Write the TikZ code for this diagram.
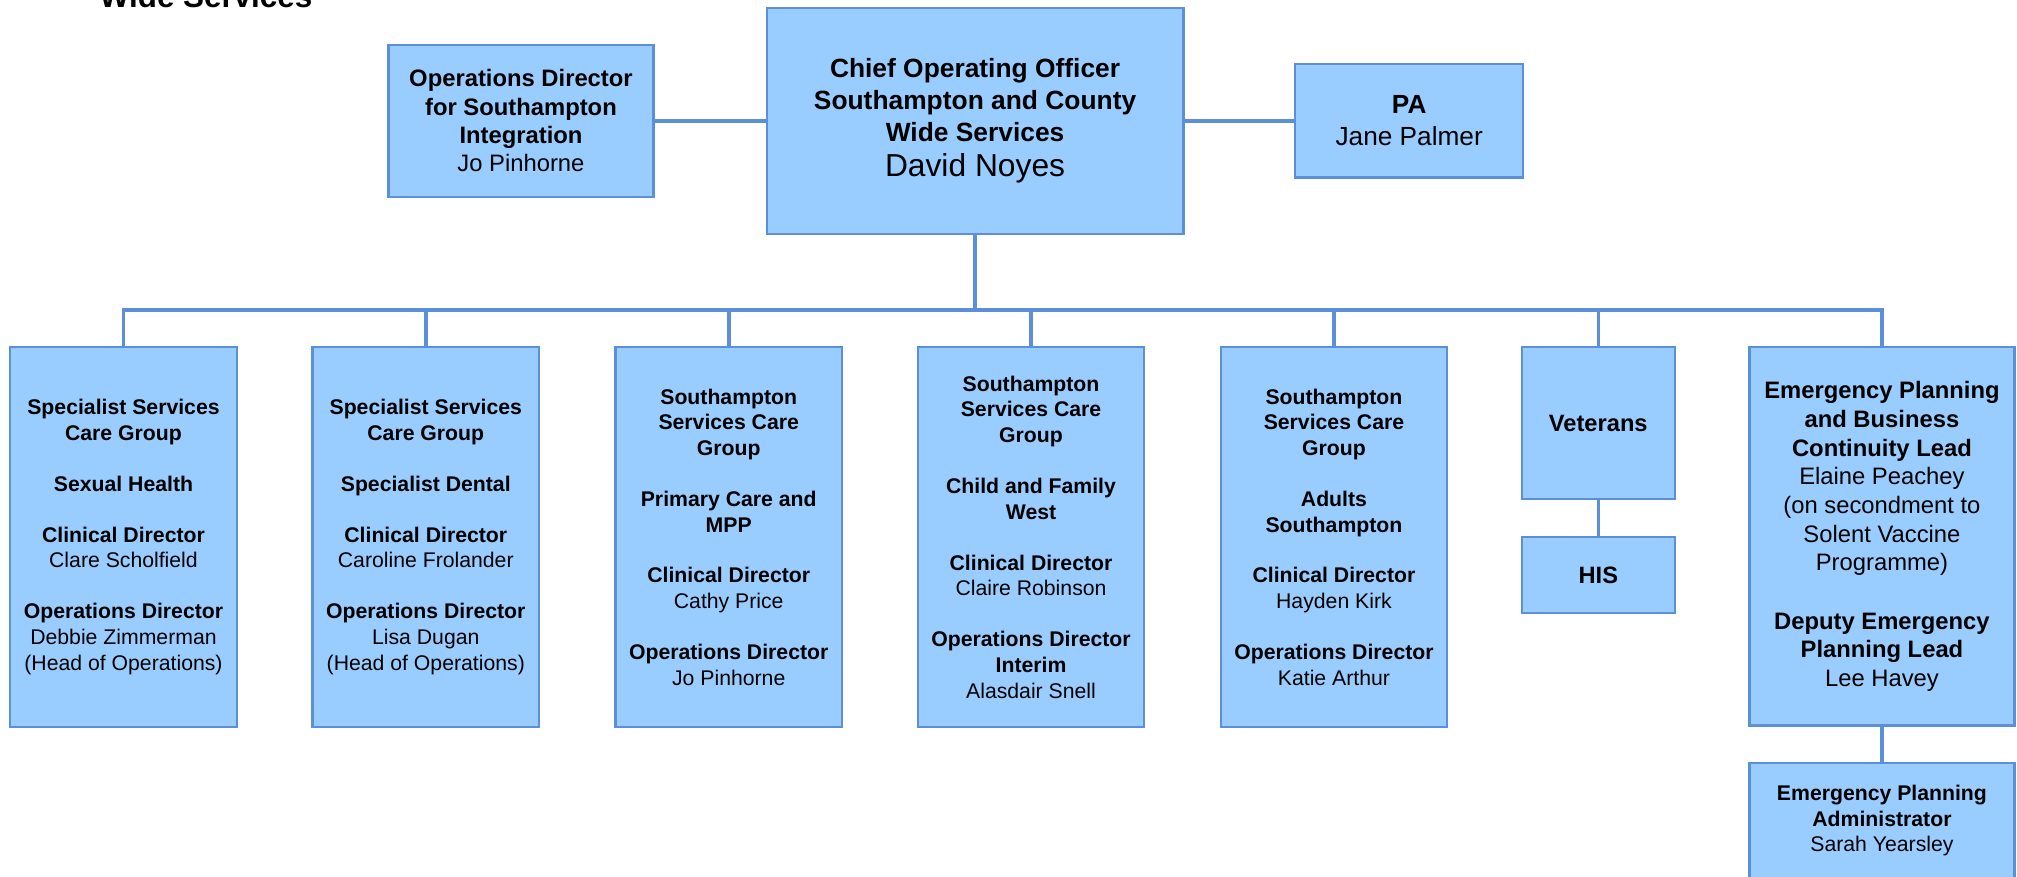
\documentclass[tikz,border=0pt]{standalone}
\usepackage{fontspec}
\setmainfont{Liberation Sans}
\definecolor{boxc}{HTML}{99CCFF}
\definecolor{bordc}{HTML}{5B8FD9}
\newcommand\plainname[1]{{\mdseries #1}}
\tikzset{
  orgbox/.style={draw=bordc, fill=boxc, line width=1.7pt, align=center, inner sep=0pt},
  small/.style={font=\fontsize{16.5}{20}\selectfont\bfseries},
  conn/.style={draw=bordc, line width=2.8pt},
}
\begin{document}
\begin{tikzpicture}[x=1pt,y=-1pt]
\useasboundingbox (0,0) rectangle (1568,681);
\node[anchor=base west, font=\fontsize{24.4}{28}\selectfont\bfseries] (title) at (74,5.5) {Wide Services};

\node[orgbox, minimum width=206pt, minimum height=118pt, font=\fontsize{18.5}{22}\selectfont\bfseries] (opsint) at (405,94)
  {Operations Director\\for Southampton\\Integration\\\plainname{Jo Pinhorne}};
\node[orgbox, minimum width=324pt, minimum height=176pt, font=\fontsize{20.5}{25}\selectfont\bfseries] (ceo) at (758,94)
  {Chief Operating Officer\\Southampton and County\\Wide Services\\[2.3pt]{\mdseries\fontsize{24.7}{25}\selectfont David Noyes}};
\node[orgbox, minimum width=177pt, minimum height=88pt, font=\fontsize{20.4}{25}\selectfont\bfseries] (pa) at (1095.5,94)
  {PA\\\plainname{Jane Palmer}};

\node[orgbox, small, minimum width=176pt, minimum height=295pt] (c1) at (96,417.5)
  {Specialist Services\\Care Group\\[19.5pt]Sexual Health\\[19.5pt]Clinical Director\\\plainname{Clare Scholfield}\\[19.5pt]Operations Director\\\plainname{Debbie Zimmerman}\\\plainname{(Head of Operations)}};
\node[orgbox, small, minimum width=176pt, minimum height=295pt] (c2) at (331,417.5)
  {Specialist Services\\Care Group\\[19.5pt]Specialist Dental\\[19.5pt]Clinical Director\\\plainname{Caroline Frolander}\\[19.5pt]Operations Director\\\plainname{Lisa Dugan}\\\plainname{(Head of Operations)}};
\node[orgbox, small, minimum width=176pt, minimum height=295pt] (c3) at (566.5,417.5)
  {Southampton\\Services Care\\Group\\[19.5pt]Primary Care and\\MPP\\[19.5pt]Clinical Director\\\plainname{Cathy Price}\\[19.5pt]Operations Director\\\plainname{Jo Pinhorne}};
\node[orgbox, small, minimum width=176pt, minimum height=295pt] (c4) at (801.5,417.5)
  {Southampton\\Services Care\\Group\\[19.5pt]Child and Family\\West\\[19.5pt]Clinical Director\\\plainname{Claire Robinson}\\[19.5pt]Operations Director\\Interim\\\plainname{Alasdair Snell}};
\node[orgbox, small, minimum width=176pt, minimum height=295pt] (c5) at (1037,417.5)
  {Southampton\\Services Care\\Group\\[19.5pt]Adults\\Southampton\\[19.5pt]Clinical Director\\\plainname{Hayden Kirk}\\[19.5pt]Operations Director\\\plainname{Katie Arthur}};
\node[orgbox, minimum width=119pt, minimum height=118pt, font=\fontsize{18.4}{22}\selectfont\bfseries] (vet) at (1242.5,329) {Veterans};
\node[orgbox, minimum width=119pt, minimum height=59pt, font=\fontsize{18.4}{22}\selectfont\bfseries] (his) at (1242.5,447) {HIS};
\node[orgbox, minimum width=206pt, minimum height=294pt, font=\fontsize{18.5}{22.3}\selectfont\bfseries] (ep) at (1463,417)
  {Emergency Planning\\and Business\\Continuity Lead\\\plainname{Elaine Peachey}\\\plainname{(on secondment to}\\\plainname{Solent Vaccine}\\\plainname{Programme)}\\[23pt]Deputy Emergency\\Planning Lead\\\plainname{Lee Havey}};
\node[orgbox, minimum width=206pt, minimum height=90pt, font=\fontsize{16.5}{20}\selectfont\bfseries] (epa) at (1463,638)
  {Emergency Planning\\Administrator\\\plainname{Sarah Yearsley}};

\draw[conn] (opsint.east) -- (ceo.west);
\draw[conn] (ceo.east) -- (pa.west);
\draw[conn] (ceo.south) -- ++(0,58) coordinate (busmid);
\draw[conn] (c1.north) -- (c1.north |- busmid) -| (ep.north);
\foreach \n in {c2,c3,c4,c5,vet} \draw[conn] (\n.north) -- (\n.north |- busmid);
\draw[conn] (vet.south) -- (his.north);
\draw[conn] (ep.south) -- (epa.north);
\end{tikzpicture}
\end{document}
